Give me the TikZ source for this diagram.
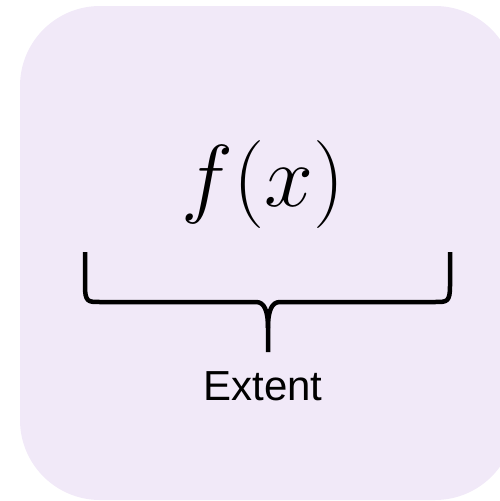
\RequirePackage{fix-cm}
\documentclass[tikz,border=0pt]{standalone}
\usepackage{fontspec}
\usepackage{amsmath}
\usepackage{tikz}
\usetikzlibrary{positioning}
\newfontfamily\labelfont{Liberation Sans}
\definecolor{panelFill}{HTML}{F1E9F8}

\begin{document}
\begin{tikzpicture}[
  x=1pt, y=-1pt,
  panel/.style={fill=panelFill, draw=none, rounded corners=80pt},
  funclabel/.style={inner sep=0pt, font=\fontsize{88}{96}\selectfont},
  extentlabel/.style={inner sep=0pt, font=\labelfont\fontsize{42}{50}\selectfont},
  bracket/.style={draw=black, line width=4.5pt, line join=round}
]
  \clip (0,0) rectangle (500,501);
  \fill[panel] (20,6) rectangle (515,500);

  \node[funclabel] (fx) at (263,184) {$f(x)$};
  \node[extentlabel, anchor=base] (extent) at (263,400) {Extent};

  % brace under f(x)
  \coordinate (bl) at (85,252);
  \coordinate (br) at (450,252);
  \coordinate (tip) at (268,352);
  \draw[bracket] (bl) -- (85,286) .. controls (85,302) and (88,302) .. (100,302)
    -- (256,302) .. controls (264,302) and (268,310) .. (268,328) -- (tip);
  \draw[bracket] (br) -- (450,286) .. controls (450,302) and (447,302) .. (435,302)
    -- (280,302) .. controls (272,302) and (268,310) .. (268,328);
\end{tikzpicture}
\end{document}
